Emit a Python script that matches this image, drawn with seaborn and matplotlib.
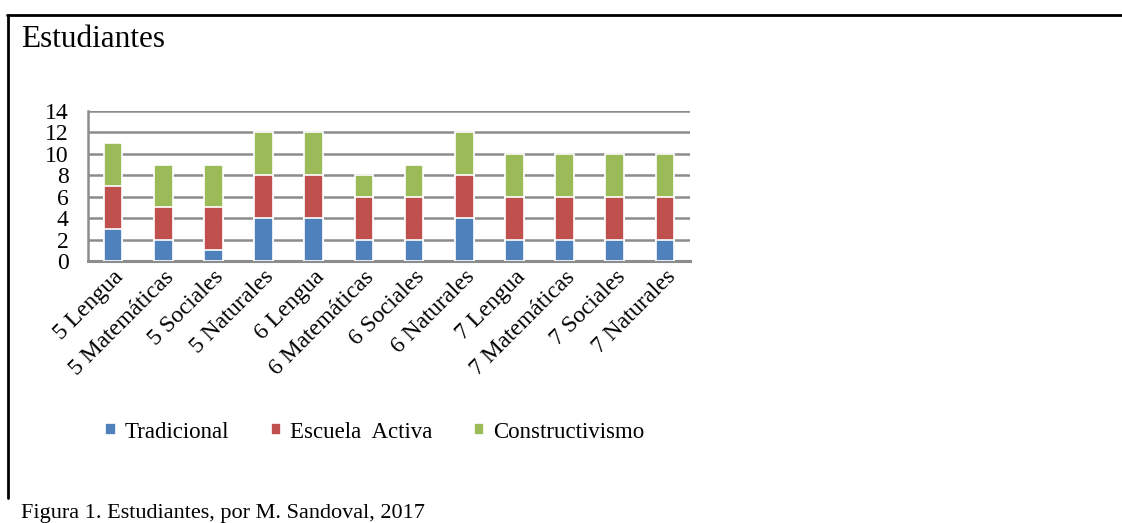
import numpy as np
import pandas as pd
import matplotlib
matplotlib.use("Agg")
import matplotlib.pyplot as plt
import seaborn as sns
from matplotlib.lines import Line2D

sns.set_style("white")
plt.rcParams['font.family'] = ['Liberation Serif', 'DejaVu Serif']
plt.rcParams['text.color'] = 'black'
plt.rcParams['xtick.color'] = 'black'
plt.rcParams['ytick.color'] = 'black'

# data
categorias = ['5 Lengua', '5 Matemáticas', '5 Sociales', '5 Naturales',
              '6 Lengua', '6 Matemáticas', '6 Sociales', '6 Naturales',
              '7 Lengua', '7 Matemáticas', '7 Sociales', '7 Naturales']
tradicional = [3, 2, 1, 4, 4, 2, 2, 4, 2, 2, 2, 2]
escuela_activa = [4, 3, 4, 4, 4, 4, 4, 4, 4, 4, 4, 4]
constructivismo = [4, 4, 4, 4, 4, 2, 3, 4, 4, 4, 4, 4]
series = ['Tradicional', 'Escuela  Activa', 'Constructivismo']
colores = ['#4F81BD', '#C0504D', '#9BBB59']

df = pd.DataFrame({'cat': categorias, 'Tradicional': tradicional,
                   'Escuela  Activa': escuela_activa,
                   'Constructivismo': constructivismo})
# cumulative heights so bars can be layered (top layer drawn first)
cum = df[series].cumsum(axis=1)

W, H = 1122, 523
fig = plt.figure(figsize=(W / 100, H / 100), dpi=100)
ax = fig.add_axes([88 / W, 1 - 261 / H, (690 - 88) / W, 150 / H])

for s, c in reversed(list(zip(series, colores))):
    sns.barplot(x=df['cat'], y=cum[s], color=c, width=0.37, ax=ax,
                edgecolor='white', linewidth=1.2, label=s, zorder=3,
                saturation=1)

ax.set_ylim(0, 14)
ax.set_yticks(range(0, 15, 2))
ax.set_xlim(-0.5, len(categorias) - 0.5)
ax.yaxis.grid(True, color='#8c8c8c', linewidth=1.8, zorder=0)
ax.set_axisbelow(True)
for side in ['top', 'right']:
    ax.spines[side].set_visible(False)
ax.spines['left'].set_color('#8c8c8c')
ax.spines['left'].set_linewidth(1.8)
ax.spines['bottom'].set_color('#8c8c8c')
ax.spines['bottom'].set_linewidth(2.2)
ax.set_xlabel('')
ax.set_ylabel('')
ax.tick_params(axis='y', labelsize=17, length=0, pad=14)
ax.tick_params(axis='x', labelsize=17, length=0, pad=4)
ax.set_xticks(range(len(categorias)))
ax.set_xticklabels(categorias, rotation=45, ha='right', rotation_mode='anchor')

handles, labels = ax.get_legend_handles_labels()
order = [labels.index(s) for s in series]
ax.legend([handles[i] for i in order], series, loc='center',
          bbox_to_anchor=(375 / W, 1 - 432 / H), bbox_transform=fig.transFigure,
          ncol=3, frameon=False, fontsize=16.5, handlelength=0.45, handleheight=0.45,
          handletextpad=0.4, columnspacing=1.8)

fig.text(21 / W, 1 - 47 / H, 'Estudiantes', fontsize=22.5, va='baseline', ha='left')
fig.text(21 / W, 1 - 518 / H, 'Figura 1. Estudiantes, por M. Sandoval, 2017',
         fontsize=16, va='baseline', ha='left')

# frame around the figure (left and top edges are visible)
fig.lines.append(Line2D([8 / W, 8 / W], [1 - 15 / H, 1 - 498 / H],
                        transform=fig.transFigure, color='black', linewidth=2))
fig.lines.append(Line2D([7.3 / W, 1.0], [1 - 15 / H, 1 - 15 / H],
                        transform=fig.transFigure, color='black', linewidth=2))

fig.savefig('out.png', dpi=100)
